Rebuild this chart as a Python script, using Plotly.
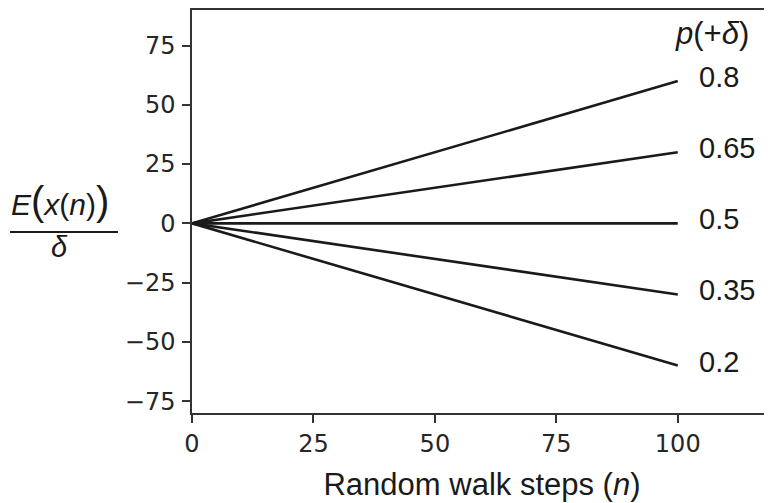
import plotly.graph_objects as go

# Data
p_labels = ["0.8", "0.65", "0.5", "0.35", "0.2"]
steps = [0, 100]
expected_0_8 = [0, 60]
expected_0_65 = [0, 30]
expected_0_5 = [0, 0]
expected_0_35 = [0, -30]
expected_0_2 = [0, -60]
series = [expected_0_8, expected_0_65, expected_0_5, expected_0_35, expected_0_2]

x_ticks = [0, 25, 50, 75, 100]
y_ticks = [-75, -50, -25, 0, 25, 50, 75]

line_color = "#1a1a1a"
axis_color = "#333333"
tick_font = dict(family="DejaVu Sans", size=24, color="#262626")
label_font = dict(family="Liberation Sans, Arial", size=29, color="#1a1a1a")

fig = go.Figure()
for lab, ys in zip(p_labels, series):
    fig.add_trace(go.Scatter(x=steps, y=ys, mode="lines",
                             line=dict(color=line_color, width=2.6),
                             name=lab, showlegend=False, hoverinfo="skip",
                             cliponaxis=False))
    fig.add_annotation(x=steps[-1], y=ys[-1], text=lab, showarrow=False,
                       xanchor="left", yanchor="middle", xshift=19, yshift=4,
                       font=label_font)

fig.add_annotation(x=steps[-1], y=80, text="<i>p</i>(+<i>δ</i>)", showarrow=False,
                   xanchor="left", yanchor="middle", xshift=-5,
                   font=dict(family="Liberation Sans, Arial", size=31, color="#1a1a1a"))

# y-axis title as a fraction
fig.add_annotation(xref="paper", yref="paper", x=-0.2276, y=0.526,
                   text="<i>E</i><span style='font-size:40px'>(</span><i>x</i>(<i>n</i>)<span style='font-size:40px'>)</span>",
                   showarrow=False, xanchor="center", yanchor="middle",
                   font=dict(family="Liberation Sans, Arial", size=30, color="#1a1a1a"))
fig.add_annotation(xref="paper", yref="paper", x=-0.2276, y=0.4123,
                   text="<i>δ</i>", showarrow=False, xanchor="center", yanchor="middle",
                   font=dict(family="Liberation Sans, Arial", size=29, color="#1a1a1a"))
fig.add_shape(type="line", xref="paper", yref="paper", x0=-0.3138, x1=-0.1276,
              y0=0.449, y1=0.449, line=dict(color="#1a1a1a", width=2))

fig.update_xaxes(range=[0, 119.4], tickvals=x_ticks, ticks="outside", ticklen=8,
                 tickwidth=1.5, tickcolor=axis_color, showline=True, linecolor=axis_color,
                 linewidth=1.5, mirror=True, showgrid=False, zeroline=False,
                 tickfont=tick_font, ticklabelstandoff=0,
                 title=dict(text="Random walk steps (<i>n</i>)", standoff=17,
                            font=dict(family="Liberation Sans, Arial", size=31, color="#1a1a1a")))
fig.update_yaxes(range=[-80, 90], tickvals=y_ticks, ticks="outside", ticklen=8,
                 tickwidth=1.5, tickcolor=axis_color, showline=True, linecolor=axis_color,
                 linewidth=1.5, showgrid=False, zeroline=False,
                 tickfont=tick_font, ticklabelstandoff=2)

# page body adds an 8px offset; compensate so the plot area lands where the reference has it
fig.update_layout(width=764, height=495, margin=dict(l=184, r=0, t=0, b=90),
                  plot_bgcolor="white", paper_bgcolor="white")

fig.write_html("out.html")
